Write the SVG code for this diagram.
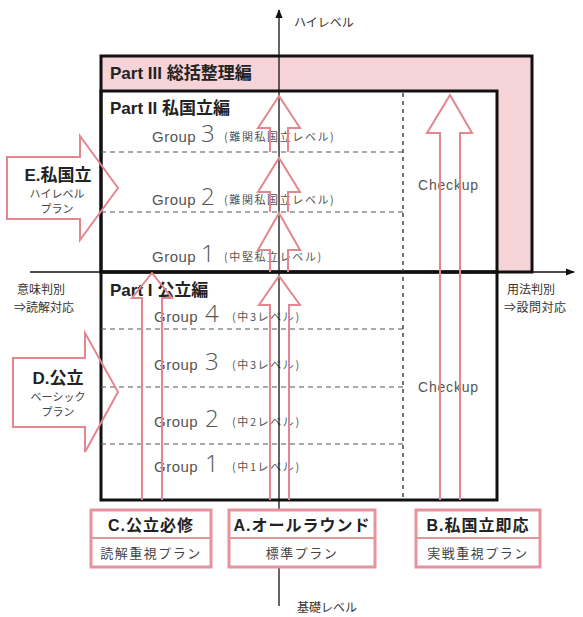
<svg xmlns="http://www.w3.org/2000/svg" width="583" height="617" viewBox="0 0 583 617">
<style>
.bx{fill:none;stroke:#111;stroke-width:3}
.pk{fill:#f6d3d7;stroke:none}
.ax{stroke:#111;stroke-width:1.3;fill:none}
.dh{stroke:#555;stroke-width:1.2;stroke-dasharray:5 4;fill:none}
.dv{stroke:#444;stroke-width:1.5;stroke-dasharray:4 4;fill:none}
.ar{fill:none;stroke:#e4868f;stroke-width:2;stroke-linejoin:miter}
.pt{font-family:"Liberation Sans","Noto Sans CJK JP",sans-serif;font-weight:bold;font-size:17px;fill:#222}
.gp{font-family:"Liberation Sans",sans-serif;font-size:15px;fill:#555;letter-spacing:0.5px}
.dg{font-family:"Open Sans","Liberation Sans",sans-serif;font-weight:300;font-size:24px;fill:#555}
.lv{font-family:"Noto Sans CJK JP",sans-serif;font-size:11px;fill:#555;letter-spacing:1.6px}
.ck{font-family:"Liberation Sans",sans-serif;font-size:14px;fill:#555;letter-spacing:0.8px}
.jp{font-family:"Noto Sans CJK JP",sans-serif;font-size:12px;fill:#333}
.sh{font-family:"Liberation Sans","Noto Sans CJK JP",sans-serif;font-weight:bold;font-size:17px;fill:#222;text-anchor:middle}
.ss{font-family:"Noto Sans CJK JP",sans-serif;font-size:11px;fill:#444;text-anchor:middle}
.lb{fill:#fff;stroke:#e4949b;stroke-width:3}
.lt{font-family:"Liberation Sans","Noto Sans CJK JP",sans-serif;font-weight:bold;font-size:16px;fill:#222;text-anchor:middle;letter-spacing:1px}
.ls{font-family:"Noto Sans CJK JP",sans-serif;font-size:13px;fill:#444;text-anchor:middle;letter-spacing:1.5px}
</style>
<defs>
<marker id="ah" viewBox="0 0 10 10" refX="9" refY="5" markerWidth="7" markerHeight="7" orient="auto"><path d="M0,1 L10,5 L0,9 Z" fill="#111"/></marker>
</defs>

<g id="part3">
<rect class="pk" x="101" y="56" width="431" height="35"/>
<rect class="pk" x="497" y="91" width="35" height="181"/>
<rect class="bx" x="101" y="56" width="431" height="216"/>
<text class="pt" x="110" y="79">Part III 総括整理編</text>
</g>

<g id="part2">
<rect class="bx" x="101" y="91" width="396" height="181"/>
<text class="pt" x="110" y="114">Part II 私国立編</text>
<line class="dh" x1="101" y1="152" x2="403" y2="152"/>
<line class="dh" x1="101" y1="212" x2="403" y2="212"/>
<text x="152" y="142"><tspan class="gp">Group</tspan><tspan class="dg" x="201">3</tspan><tspan class="lv" x="224" dy="-1">(難関私国立レベル)</tspan></text>
<text x="152" y="205"><tspan class="gp">Group</tspan><tspan class="dg" x="201">2</tspan><tspan class="lv" x="224" dy="-1">(難関私国立レベル)</tspan></text>
<text x="152" y="262"><tspan class="gp">Group</tspan><tspan class="dg" x="201">1</tspan><tspan class="lv" x="224" dy="-1">(中堅私立レベル)</tspan></text>
<text class="ck" x="418" y="190">Checkup</text>
</g>

<g id="part1">
<rect class="bx" x="101" y="272" width="396" height="228"/>
<text class="pt" x="110" y="296">Part I 公立編</text>
<line class="dh" x1="101" y1="329" x2="403" y2="329"/>
<line class="dh" x1="101" y1="387" x2="403" y2="387"/>
<line class="dh" x1="101" y1="444" x2="403" y2="444"/>
<text x="154" y="322"><tspan class="gp">Group</tspan><tspan class="dg" x="205">4</tspan><tspan class="lv" x="232" dy="-1">(中3レベル)</tspan></text>
<text x="154" y="370"><tspan class="gp">Group</tspan><tspan class="dg" x="205">3</tspan><tspan class="lv" x="232" dy="-1">(中3レベル)</tspan></text>
<text x="154" y="427"><tspan class="gp">Group</tspan><tspan class="dg" x="205">2</tspan><tspan class="lv" x="232" dy="-1">(中2レベル)</tspan></text>
<text x="154" y="472"><tspan class="gp">Group</tspan><tspan class="dg" x="205">1</tspan><tspan class="lv" x="232" dy="-1">(中1レベル)</tspan></text>
<text class="ck" x="418" y="392">Checkup</text>
</g>

<line class="dv" x1="403" y1="93" x2="403" y2="498"/>

<g id="connectors">
<line class="ax" x1="279" y1="606" x2="279" y2="10" marker-end="url(#ah)"/>
<line class="ax" x1="30" y1="272" x2="574" y2="272" marker-end="url(#ah)"/>
<path class="ar" d="M142,500 V298 H132 L152,273 L172,298 H162 V500"/>
<path class="ar" d="M270,500 V305 H259 L279,276 L300,305 H289 V500"/>
<path class="ar" d="M270,272 V250 H258 L279,213 L300,250 H288 V272"/>
<path class="ar" d="M270,212 V192 H258 L279,158 L300,192 H288 V212"/>
<path class="ar" d="M270,152 V128 H258 L279,96 L300,128 H288 V152"/>
<path class="ar" d="M440,500 V133 H427 L450,95 L472,133 H460 V500"/>
</g>

<g id="axislabels">
<text class="jp" x="294" y="27" font-size="13">ハイレベル</text>
<text class="jp" x="297" y="612" font-size="13">基礎レベル</text>
<text class="jp" x="17" y="294">意味判別</text>
<text class="jp" x="14" y="312">⇒読解対応</text>
<text class="jp" x="507" y="294">用法判別</text>
<text class="jp" x="504" y="312" letter-spacing="0.5">⇒設問対応</text>
</g>

<g id="planE">
<path class="ar" d="M7,157 H80 V136 L118,188 L80,240 V219 H7 Z"/>
<text class="sh" x="58" y="181">E.私国立</text>
<text class="ss" x="57" y="198">ハイレベル</text>
<text class="ss" x="57" y="213">プラン</text>
</g>

<g id="planD">
<path class="ar" d="M13,358 H85 V333 L118,392 L85,452 V427 H13 Z"/>
<text class="sh" x="58" y="384">D.公立</text>
<text class="ss" x="58" y="401">ベーシック</text>
<text class="ss" x="58" y="416">プラン</text>
</g>

<g id="planC">
<rect class="lb" x="91" y="510" width="120" height="57"/>
<line stroke="#e4949b" stroke-width="2" x1="91" y1="538" x2="211" y2="538"/>
<text class="lt" x="151" y="531">C.公立必修</text>
<text class="ls" x="151" y="558">読解重視プラン</text>
</g>

<g id="planA">
<rect class="lb" x="229" y="510" width="146" height="57"/>
<line stroke="#e4949b" stroke-width="2" x1="229" y1="538" x2="375" y2="538"/>
<text class="lt" x="302" y="531">A.オールラウンド</text>
<text class="ls" x="302" y="558">標準プラン</text>
</g>

<g id="planB">
<rect class="lb" x="416" y="510" width="124" height="57"/>
<line stroke="#e4949b" stroke-width="2" x1="416" y1="538" x2="540" y2="538"/>
<text class="lt" x="478" y="531">B.私国立即応</text>
<text class="ls" x="478" y="558">実戦重視プラン</text>
</g>
</svg>
